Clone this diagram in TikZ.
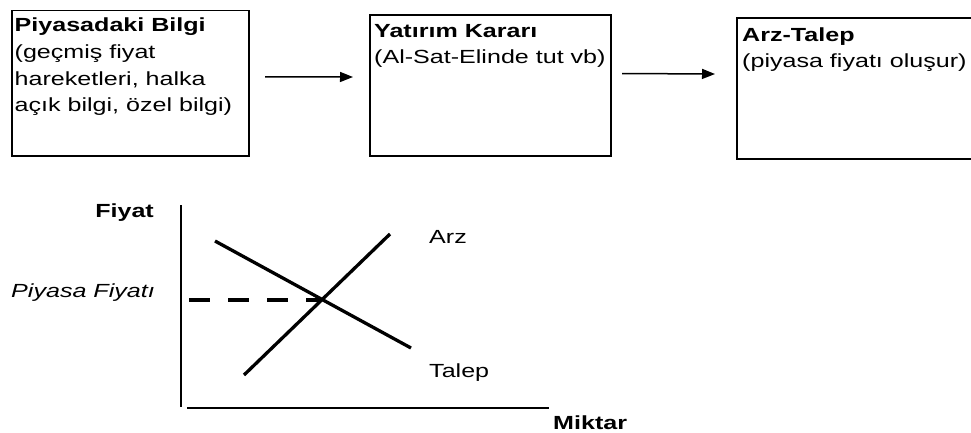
\documentclass[tikz,border=0pt]{standalone}
\usepackage{fontspec}
\setmainfont{Liberation Sans}[FakeStretch=1.32]
\usetikzlibrary{arrows.meta, positioning}

\begin{document}
\begin{tikzpicture}[x=1pt, y=-1pt, font=\fontsize{19}{26.8}\selectfont,
  panel/.style={draw, line width=1.7pt, anchor=north west, inner sep=0pt, outer sep=0pt},
  paneltext/.style={anchor=base west, inner sep=0pt},
  flow/.style={line width=1.5pt, -{Triangle[length=13pt,width=10pt]}},
  curve/.style={line width=3.3pt},
  axis/.style={line width=2.6pt},
  lbl/.style={inner sep=0pt}]
  \useasboundingbox (0,0) rectangle (971,432);
  \clip (0,0) rectangle (971,432);

  % top row: three boxes
  \node[panel, minimum width=237pt, minimum height=145.5pt] (bilgi) at (12,10.5) {};
  \node[panel, minimum width=241pt, minimum height=141pt] (karar) at (370,15) {};
  \node[panel, minimum width=300pt, minimum height=141pt] (piyasa) at (737,18) {};

  \node[paneltext] (bilgitext) at ([shift={(2.5,21)}]bilgi.north west)
    {\parbox[t]{230pt}{\raggedright\textbf{Piyasadaki Bilgi}\\(geçmiş fiyat\\hareketleri, halka\\açık bilgi, özel bilgi)}};
  \node[paneltext] (karartext) at ([shift={(4,22)}]karar.north west)
    {\parbox[t]{235pt}{\raggedright\textbf{Yatırım Kararı}\\(Al-Sat-Elinde tut vb)}};
  \node[paneltext] (piyasatext) at ([shift={(5,23)}]piyasa.north west)
    {\parbox[t]{240pt}{\raggedright\textbf{Arz-Talep}\\(piyasa fiyatı oluşur)}};

  \draw[flow] ([shift={(16,-6.5)}]bilgi.east) -- ([shift={(-17,-8.5)}]karar.west);
  \draw[flow] ([shift={(11,-12)}]karar.east) -- ([shift={(-22,-14.5)}]piyasa.west);

  % supply / demand chart
  \coordinate (ytop) at (181,205);
  \coordinate (ybot) at (181,407);
  \coordinate (xleft) at (187,408);
  \coordinate (xright) at (549,408);
  \coordinate (talepA) at (215,241);
  \coordinate (talepB) at (411,348);
  \coordinate (arzA) at (244,375);
  \coordinate (arzB) at (390,234);
  \coordinate (denge) at (322,300);
  \coordinate (dashstart) at (189,300);

  \draw[axis] (ytop) -- (ybot);
  \draw[axis] (xleft) -- (xright);
  \draw[curve] (talepA) -- (talepB);
  \draw[curve] (arzA) -- (arzB);
  \draw[curve, dash pattern=on 20.5pt off 18.5pt] (dashstart) -- (denge);

  \node[lbl, anchor=base east] (fiyat) at (154,217) {\textbf{Fiyat}};
  \node[lbl, anchor=base east] (piyasafiyati) at (155,297) {\textit{Piyasa Fiyatı}};
  \node[lbl, anchor=base west] (arz) at (429,243) {Arz};
  \node[lbl, anchor=base west] (talep) at (429,377) {Talep};
  \node[lbl, anchor=base west] (miktar) at (553,429) {\textbf{Miktar}};
\end{tikzpicture}
\end{document}
